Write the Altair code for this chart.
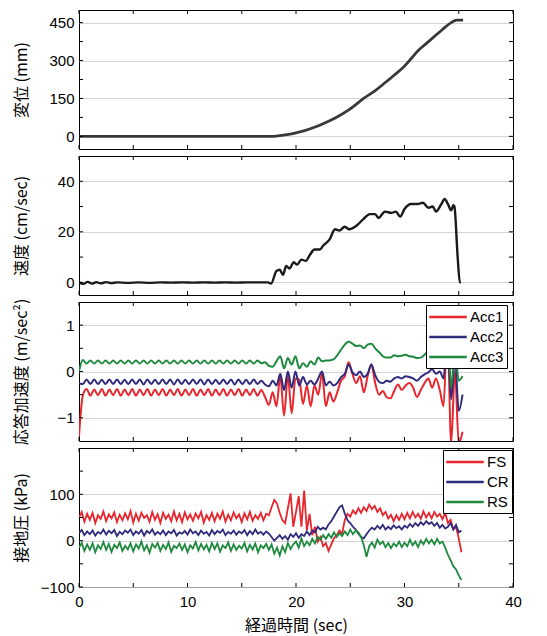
import altair as alt
import pandas as pd

# ---------------- data ----------------
disp_t = [0, 17.7, 19.0, 19.9, 20.8, 21.7, 22.7, 23.7, 24.9, 26.3, 27.3, 28.2,
          29.1, 30.0, 30.6, 31.2, 32.0, 32.8, 33.5, 34.3, 34.8, 35.4]
disp_v = [0, 0, 6, 13, 23, 36, 54, 75, 106, 152, 181, 212,
          244, 278, 307, 337, 367, 397, 423, 450, 460, 460]

vel_t = [0, 0.4, 0.8, 1.2, 1.6, 2.0, 2.5, 3.0, 3.5, 4.5, 5.5, 6.5, 7.5, 8.5,
         9.5, 10.5, 11.5, 12.5, 13.5, 14.5, 15.5, 16.5, 17.4, 17.7, 18.2, 18.5,
         18.8, 19.1, 19.4, 19.8, 20.1, 20.5, 20.9, 21.3, 21.7, 22.2, 22.5, 23.1,
         23.6, 24.0, 24.5, 24.9, 25.6, 26.2, 26.8, 27.3, 27.6, 28.2, 28.8, 29.2,
         29.6, 30.0, 30.6, 31.2, 31.7, 32.2, 32.6, 32.9, 33.4, 33.7, 34.0, 34.3,
         34.5, 34.6, 34.9, 35.1, 35.2]
vel_v = [0, -0.6, 0.2, -0.5, 0.1, -0.4, 0.1, -0.3, 0, -0.2, 0, -0.2, 0, -0.1,
         0, -0.1, 0, -0.1, 0, -0.1, 0, 0, 0, -0.5, 4.5, 5,
         3, 6.5, 5.5, 8, 7, 9, 8.5, 11, 13, 13, 14.5, 17,
         21, 20.5, 22, 21, 22.5, 25, 27, 27, 25.5, 28, 27.5, 28,
         26, 29, 31, 31, 31.5, 29.5, 30, 28, 31, 33, 31, 28.5,
         30.5, 30, 10, 0, 0]

acc_dt = 0.35  # sampling step of the acceleration records (sec)
acc1 = [-1.40, -0.52, -0.38, -0.52, -0.39, -0.51, -0.38, -0.52, -0.39, -0.51,
        -0.38, -0.52, -0.39, -0.51, -0.38, -0.52, -0.39, -0.51, -0.38, -0.52,
        -0.39, -0.51, -0.38, -0.52, -0.39, -0.51, -0.38, -0.52, -0.39, -0.51,
        -0.38, -0.52, -0.39, -0.51, -0.38, -0.52, -0.39, -0.51, -0.38, -0.52,
        -0.39, -0.51, -0.38, -0.52, -0.39, -0.51, -0.38, -0.52, -0.40, -0.55,
        -0.72, -0.45, -0.75, -0.10, -0.95, -0.10, -0.90, -0.15, -0.18, -0.70,
        -0.30, -0.75, -0.30, -0.50, -0.05, -0.75, -0.45, -0.65, -0.45, -0.20,
        -0.10, 0.20, -0.05, -0.25, -0.10, -0.45, -0.10, 0.15, -0.25, -0.50,
        -0.42, -0.55, -0.58, -0.42, -0.28, -0.40, -0.30, -0.25, -0.35, -0.55,
        -0.40, -0.25, -0.15, -0.35, -0.15, -0.40, -0.75, 1.00, -1.55, 0.00,
        -1.55, -1.30]
acc2 = [-0.25, -0.27, -0.17, -0.27, -0.17, -0.27, -0.18, -0.27, -0.17, -0.27,
        -0.17, -0.27, -0.18, -0.27, -0.17, -0.27, -0.17, -0.28, -0.17, -0.27,
        -0.18, -0.27, -0.17, -0.27, -0.17, -0.28, -0.17, -0.27, -0.18, -0.27,
        -0.17, -0.27, -0.17, -0.28, -0.17, -0.27, -0.18, -0.27, -0.17, -0.27,
        -0.17, -0.28, -0.17, -0.27, -0.18, -0.27, -0.17, -0.27, -0.20, -0.28,
        -0.32, -0.20, -0.30, -0.05, -0.40, 0.00, -0.35, 0.00, -0.30, -0.12,
        -0.28, -0.20, -0.28, -0.15, 0.00, -0.30, -0.22, -0.30, -0.25, -0.12,
        -0.05, 0.15, -0.02, -0.08, 0.00, -0.12, -0.05, 0.15, -0.08, -0.22,
        -0.25, -0.20, -0.22, -0.15, -0.12, -0.15, -0.10, -0.12, -0.15, -0.20,
        -0.12, -0.06, -0.02, 0.05, -0.05, 0.00, -0.15, 0.80, -0.60, 0.30,
        -0.85, -0.50]
acc3 = [0.00, 0.25, 0.17, 0.24, 0.17, 0.24, 0.17, 0.24, 0.17, 0.24,
        0.17, 0.24, 0.17, 0.24, 0.17, 0.24, 0.17, 0.24, 0.17, 0.24,
        0.17, 0.24, 0.17, 0.24, 0.17, 0.24, 0.17, 0.24, 0.17, 0.24,
        0.17, 0.24, 0.17, 0.24, 0.17, 0.24, 0.17, 0.24, 0.17, 0.24,
        0.17, 0.24, 0.17, 0.24, 0.17, 0.24, 0.17, 0.24, 0.18, 0.20,
        0.12, 0.10, 0.22, 0.33, 0.07, 0.29, 0.15, 0.33, 0.07, 0.18,
        0.10, 0.22, 0.15, 0.30, 0.22, 0.24, 0.24, 0.26, 0.35, 0.47,
        0.58, 0.65, 0.60, 0.55, 0.56, 0.50, 0.58, 0.60, 0.50, 0.42,
        0.33, 0.30, 0.30, 0.35, 0.33, 0.34, 0.36, 0.33, 0.32, 0.29,
        0.30, 0.36, 0.44, 0.40, 0.45, 0.42, 0.45, 1.00, -0.35, 0.50,
        -0.20, -0.10]

p_dt = 0.25  # sampling step of the contact-pressure records (sec)
fs = [50, 62, 41, 58, 45, 60, 38, 55, 47, 63,
      42, 57, 48, 61, 40, 56, 44, 59, 46, 64,
      39, 58, 43, 60, 49, 55, 41, 62, 45, 57,
      38, 60, 47, 56, 42, 63, 44, 58, 40, 61,
      46, 57, 43, 59, 48, 62, 39, 55, 45, 60,
      42, 58, 47, 63, 41, 56, 44, 61, 48, 57,
      40, 59, 46, 62, 43, 55, 47, 60, 44, 58,
      55, 72, 88, 80, 60, 44, 38, 70, 102, 30,
      62, 96, 30, 108, 22, 58, 12, 30, -2, 8,
      -12, -5, -22, -8, 5, 12, 22, 15, 45, 58,
      52, 65, 58, 70, 60, 72, 64, 78, 68, 75,
      62, 70, 55, 62, 48, 56, 42, 55, 45, 58,
      46, 60, 48, 62, 50, 58, 47, 63, 50, 60,
      48, 62, 52, 58, 46, 60, 38, 45, 25, 30,
      5, -25]
cr = [17, 23, 12, 20, 14, 22, 11, 19, 15, 24,
      13, 21, 16, 23, 10, 19, 14, 22, 17, 24,
      12, 20, 15, 23, 11, 21, 16, 24, 13, 19,
      14, 22, 12, 20, 16, 23, 11, 18, 15, 21,
      13, 24, 16, 20, 12, 22, 15, 19, 11, 23,
      14, 21, 17, 24, 12, 19, 15, 22, 13, 20,
      16, 23, 12, 21, 14, 24, 15, 19, 13, 20,
      15, 8, 0, 6, 12, 4, 10, 2, 14, 8,
      16, 6, 14, 10, 20, 12, 22, 18, 30, 24,
      28, 24, 35, 42, 52, 62, 72, 76, 58, 44,
      38, 30, 24, 15, 8, 5, 14, 22, 28, 24,
      32, 26, 34, 24, 30, 25, 33, 27, 31, 24,
      32, 28, 36, 30, 38, 32, 40, 34, 42, 36,
      40, 32, 38, 28, 34, 26, 30, 38, 24, 34,
      18, 22]
rs = [-15, -5, -22, -8, -20, -6, -25, -10, -18, -3,
      -20, -7, -24, -9, -16, -4, -22, -11, -19, -6,
      -23, -8, -17, -2, -21, -10, -26, -7, -15, -5,
      -22, -9, -18, -4, -24, -11, -16, -6, -20, -8,
      -25, -10, -17, -3, -21, -7, -19, -9, -23, -5,
      -18, -6, -24, -10, -16, -4, -22, -8, -20, -11,
      -17, -5, -23, -9, -19, -6, -25, -10, -16, -7,
      -20, -8, -28, -15, -32, -12, -25, -5, -18, -8,
      -2, -15, 5, -12, -2, -10, 4, -6, 8, 2,
      12, 4, 14, 6, 18, 8, 16, 10, 20, 12,
      24, 14, 22, 18, 8, -10, -35, -12, -4, -15,
      2, -8, -2, -14, -5, -16, -6, -12, -2, -14,
      -4, -12, 2, -10, -2, -14, 0, -8, 4, -6,
      2, -8, 4, -6, -2, -15, -30, -42, -55, -62,
      -75, -85]

x_ticks = [0, 5, 10, 15, 20, 25, 30, 35, 40]
x_labels = [0, 10, 20, 30, 40]

acc_names = ["Acc1", "Acc2", "Acc3"]
p_names = ["FS", "CR", "RS"]
c_red, c_navy, c_green = "#e8262d", "#2f2a7d", "#1f8a3e"

# ---------------- tables ----------------
df_disp = pd.DataFrame({"t": disp_t, "v": disp_v})
df_vel = pd.DataFrame({"t": vel_t, "v": vel_v})
rows = []
for name, vals in zip(acc_names, [acc1, acc2, acc3]):
    for i, v in enumerate(vals):
        rows.append({"t": round(i * acc_dt, 3), "v": v, "s": name})
df_acc = pd.DataFrame(rows)
rows = []
for name, vals in zip(p_names, [fs, cr, rs]):
    for i, v in enumerate(vals):
        rows.append({"t": round(i * p_dt, 3), "v": v, "s": name})
df_p = pd.DataFrame(rows)

W, H = 434, 139
TICK = 4
XS = alt.Scale(domain=[0, 40], nice=False, zero=False)


def panel(df, ydom, ymajor, yminor, ytitle, color=None, last=False,
          sw=2.2, interp="monotone", line_color="#222222"):
    ys = alt.Scale(domain=ydom, nice=False, zero=False)
    base = alt.Chart(df)
    if last:
        xax = alt.Axis(values=x_labels, ticks=False, domain=False, grid=False,
                       labelPadding=7, labelFlush=False,
                       title="経過時間 (sec)", titlePadding=8)
    else:
        xax = alt.Axis(values=x_labels, ticks=False, domain=False, grid=False,
                       labels=False, title=None)
    yax = alt.Axis(values=ymajor, ticks=False, domain=False, grid=True,
                   gridColor="#c9c9c9", gridWidth=0.8, labelPadding=5,
                   minExtent=42, maxExtent=42, title=ytitle, titlePadding=8)
    enc = dict(x=alt.X("t:Q", scale=XS, axis=xax),
               y=alt.Y("v:Q", scale=ys, axis=yax))
    if color is not None:
        enc["color"] = color
        line = base.mark_line(strokeWidth=sw, clip=True,
                              interpolate=interp).encode(**enc)
    else:
        line = base.mark_line(strokeWidth=sw, clip=True, interpolate=interp,
                              color=line_color).encode(**enc)
    # inward tick marks on all four sides, placed by the scales
    ydf = pd.DataFrame({"v": yminor})
    xdf = pd.DataFrame({"t": x_ticks})
    rule = dict(color="black", strokeWidth=1)
    yl = alt.Chart(ydf).mark_rule(**rule).encode(
        y=alt.Y("v:Q", scale=ys, axis=None), x=alt.value(0), x2=alt.value(TICK))
    yr = alt.Chart(ydf).mark_rule(**rule).encode(
        y=alt.Y("v:Q", scale=ys, axis=None), x=alt.value(W - TICK), x2=alt.value(W))
    xb = alt.Chart(xdf).mark_rule(**rule).encode(
        x=alt.X("t:Q", scale=XS, axis=None), y=alt.value(H - TICK), y2=alt.value(H))
    xt = alt.Chart(xdf).mark_rule(**rule).encode(
        x=alt.X("t:Q", scale=XS, axis=None), y=alt.value(0), y2=alt.value(TICK))
    return alt.layer(line, yl, yr, xb, xt).resolve_axis(
        x="independent", y="independent").properties(width=W, height=H)


def legend(lx, ly):
    return alt.Legend(orient="none", legendX=lx, legendY=ly, title=None,
                      fillColor="white", strokeColor="black", padding=3,
                      symbolType="M-2.5,0H2.5", symbolSize=225,
                      symbolStrokeWidth=2.5, symbolOffset=10, labelOffset=13,
                      labelFontSize=15, labelFont="Liberation Sans",
                      labelColor="black", rowPadding=3)


p1 = panel(df_disp, [-50, 500], [0, 150, 300, 450],
           [0, 75, 150, 225, 300, 375, 450], "変位 (mm)", sw=2.8,
           line_color="#383838")
p2 = panel(df_vel, [-5, 50], [0, 20, 40], [0, 10, 20, 30, 40],
           "速度 (cm/sec)", sw=2.4, line_color="#1a1a1a")
p3 = panel(df_acc, [-1.5, 1.5], [-1, 0, 1], [-1, -0.5, 0, 0.5, 1],
           "応答加速度 (m/sec²)", sw=2.0,
           color=alt.Color("s:N", scale=alt.Scale(domain=acc_names,
                           range=[c_red, c_navy, c_green]),
                           legend=legend(347, 3)))
p4 = panel(df_p, [-100, 200], [-100, 0, 100], [-100, -50, 0, 50, 100, 150],
           "接地圧 (kPa)", sw=1.8, interp="linear", last=True,
           color=alt.Color("s:N", scale=alt.Scale(domain=p_names,
                           range=[c_red, c_navy, c_green]),
                           legend=legend(364, 2)))

chart = alt.vconcat(p1, p2, p3, p4, spacing=7, bounds="flush").resolve_scale(
    x="independent", y="independent", color="independent"
).properties(
    padding={"left": 4, "top": 1, "right": 4, "bottom": 0}
).configure_view(
    stroke="black", strokeWidth=1
).configure_axis(
    labelFont="Liberation Sans", labelFontSize=15, labelColor="black",
    titleFont="Noto Sans CJK JP", titleFontSize=16, titleFontWeight="normal",
    titleColor="black"
)

chart.save("out.html", embed_options={"renderer": "svg", "actions": False})
